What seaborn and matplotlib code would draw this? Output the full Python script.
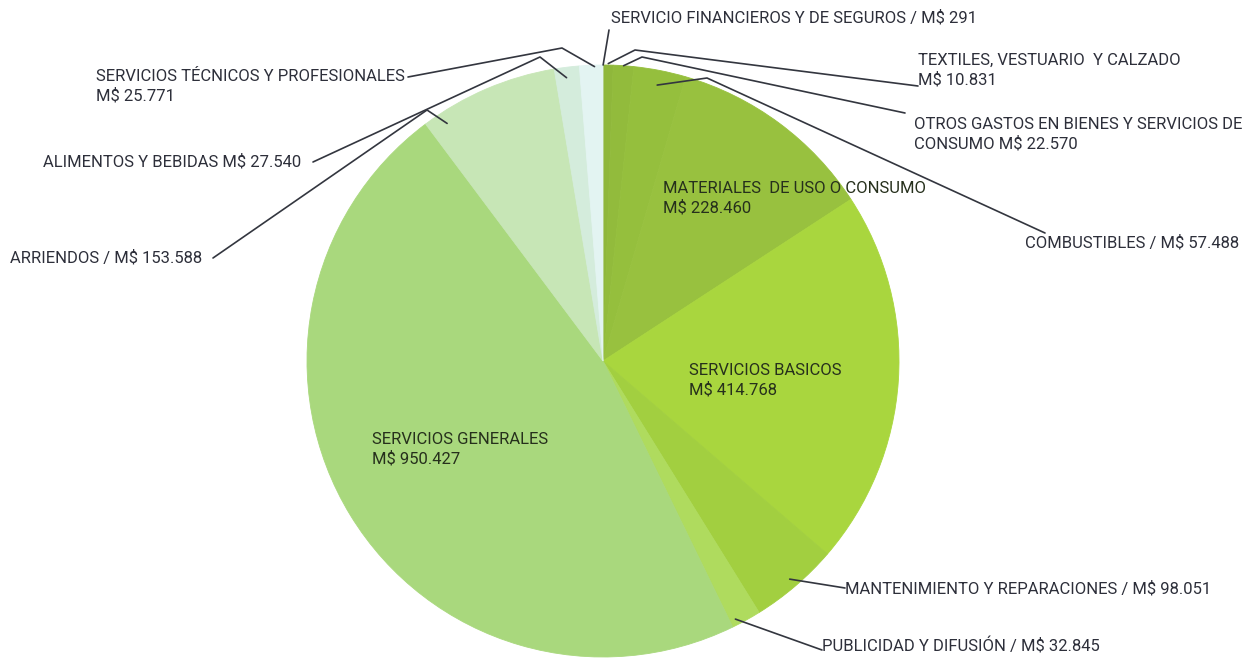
import numpy as np
import matplotlib
matplotlib.use("Agg")
import matplotlib.pyplot as plt
import seaborn as sns

# Gasto en bienes y servicios (M$), slices clockwise from the top
categories = [
    "Servicio financieros y de seguros",
    "Textiles, vestuario y calzado",
    "Otros gastos en bienes y servicios de consumo",
    "Combustibles",
    "Materiales de uso o consumo",
    "Servicios basicos",
    "Mantenimiento y reparaciones",
    "Publicidad y difusion",
    "Servicios generales",
    "Arriendos",
    "Alimentos y bebidas",
    "Servicios tecnicos y profesionales",
]
amounts = [291, 10831, 22570, 57488, 228460, 414768, 98051, 32845, 950427, 153588, 27540, 25771]
labels = [
    "SERVICIO FINANCIEROS Y DE SEGUROS / M$ 291",
    "TEXTILES, VESTUARIO  Y CALZADO\nM$ 10.831",
    "OTROS GASTOS EN BIENES Y SERVICIOS DE\nCONSUMO M$ 22.570",
    "COMBUSTIBLES / M$ 57.488",
    "MATERIALES  DE USO O CONSUMO\nM$ 228.460",
    "SERVICIOS BASICOS\nM$ 414.768",
    "MANTENIMIENTO Y REPARACIONES / M$ 98.051",
    "PUBLICIDAD Y DIFUSIÓN / M$ 32.845",
    "SERVICIOS GENERALES\nM$ 950.427",
    "ARRIENDOS / M$ 153.588",
    "ALIMENTOS Y BEBIDAS M$ 27.540",
    "SERVICIOS TÉCNICOS Y PROFESIONALES\nM$ 25.771",
]
colors = ["#8db33a", "#8fb73b", "#92bb3c", "#95bf3d", "#98c13f", "#a9d63e",
          "#a2cf40", "#afdb5e", "#a9d87d", "#c7e6b6", "#d4ecdc", "#e3f4f2"]

# layout in pixels (y from the top)
W, H = 1246, 664
CX, CY, R = 603, 361, 296
text_pos = [(611, 18), (918, 70), (914, 134), (1025, 243), (663, 198), (689, 380),
            (845, 589), (822, 646), (372, 449), (10, 258), (43, 162), (96, 86)]
# leader: (position along wedge, radius factor, elbow, end) or None for labels inside
leaders = [
    (0.5, 1.0, None, (609, 30)),
    (0.5, 1.005, (635, 50), (918, 86)),
    (0.5, 1.0, (642, 57), (905, 113)),
    (0.5, 0.95, (707, 78), (1045, 233)),
    None,
    None,
    (0.5, 0.97, None, (845, 588)),
    (0.8, 0.98, None, (822, 650)),
    None,
    (0.13, 0.96, (427, 110), (213, 258)),
    (0.44, 0.965, (540, 57), (313, 162)),
    (0.64, 0.995, (562, 48), (408, 77)),
]


def P(x, y):
    return x, H - y


sns.set_theme(style="white")
plt.rcParams["font.family"] = ["Roboto", "DejaVu Sans"]

fig = plt.figure(figsize=(W / 100, H / 100), dpi=100)
ax = fig.add_axes([0, 0, 1, 1])
wedges, _ = ax.pie(amounts, colors=colors, startangle=90, counterclock=False,
                   center=P(CX, CY), radius=R, frame=False,
                   wedgeprops=dict(linewidth=0.6))
for w in wedges:
    w.set_edgecolor(w.get_facecolor())
ax.set_xlim(0, W)
ax.set_ylim(0, H)
ax.set_aspect("equal")
ax.axis("off")

cx, cy = P(CX, CY)
for w, lay in zip(wedges, leaders):
    if lay is None:
        continue
    frac, rf, elbow, end = lay
    th = np.deg2rad(w.theta2 - frac * (w.theta2 - w.theta1))
    pts = [(cx + R * rf * np.cos(th), cy + R * rf * np.sin(th))]
    if elbow:
        pts.append(P(*elbow))
    pts.append(P(*end))
    xs, ys = zip(*pts)
    ax.plot(xs, ys, color="#33363f", lw=1.2, solid_capstyle="round")

inside = {4, 5, 8}
for i, (s, (x, y)) in enumerate(zip(labels, text_pos)):
    ax.text(*P(x, y), s, ha="left", va="center", fontsize=12,
            color="#26301c" if i in inside else "#2d2f3a",
            linespacing=1.3, parse_math=False)

fig.savefig("out.png", dpi=100)
